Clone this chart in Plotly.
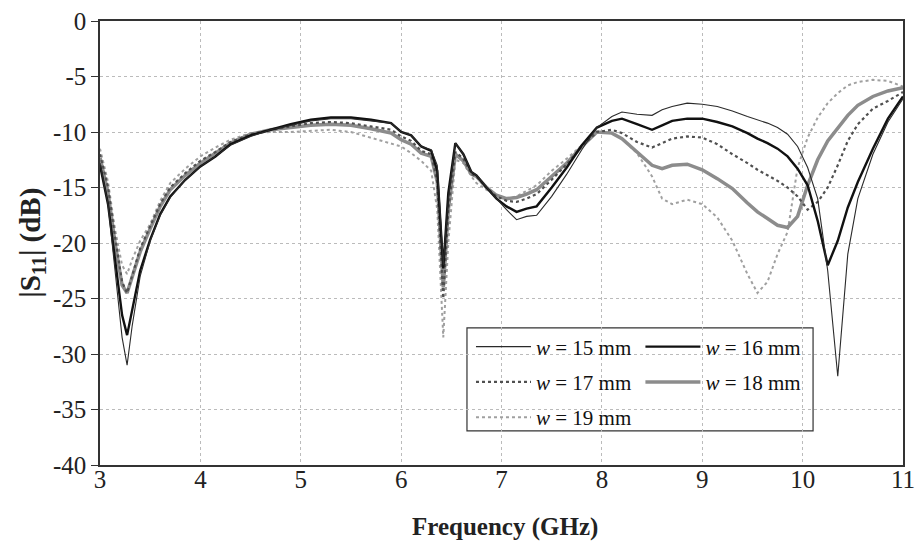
import plotly.graph_objects as go

# frequency grid (GHz)
freq = [3.0, 3.08, 3.15, 3.22, 3.27, 3.32, 3.4, 3.5, 3.6, 3.7, 3.85, 4.0, 4.15, 4.3,
        4.5, 4.7, 4.9, 5.1, 5.3, 5.5, 5.7, 5.9, 6.0, 6.1, 6.2, 6.3, 6.36, 6.42, 6.47,
        6.54, 6.62, 6.7, 6.75, 6.85, 6.95, 7.05, 7.15, 7.25, 7.35, 7.5, 7.65, 7.8,
        7.95, 8.1, 8.2, 8.35, 8.5, 8.6, 8.7, 8.85, 9.0, 9.15, 9.3, 9.45, 9.55, 9.65,
        9.75, 9.85, 9.95, 10.05, 10.15, 10.25, 10.35, 10.45, 10.55, 10.7, 10.85, 11.0]

# |S11| (dB)
s11_w15 = [-12.8, -16.5, -22.5, -28.5, -31.0, -27.5, -23.0, -19.8, -17.5, -15.9, -14.3, -13.1, -12.2, -11.2,
           -10.4, -9.8, -9.4, -9.0, -8.8, -8.8, -9.0, -9.2, -10.0, -10.3, -11.3, -11.6, -13.0, -22.0, -16.0,
           -11.0, -12.0, -13.6, -13.9, -15.0, -16.0, -17.0, -17.9, -17.6, -17.5, -15.8, -13.8, -11.6,
           -9.6, -8.6, -8.2, -8.4, -8.5, -8.0, -7.7, -7.4, -7.5, -7.7, -8.1, -8.6, -8.9, -9.2,
           -9.6, -10.2, -11.3, -13.2, -16.0, -22.5, -32.0, -21.0, -16.0, -12.0, -9.1, -7.0]
s11_w16 = [-13.0, -16.5, -21.5, -26.5, -28.3, -26.0, -22.5, -19.7, -17.4, -15.8, -14.3, -13.1, -12.2, -11.1,
           -10.3, -9.8, -9.3, -8.9, -8.7, -8.7, -8.9, -9.2, -10.0, -10.3, -11.3, -11.7, -13.5, -22.3, -15.5,
           -11.0, -12.0, -13.6, -13.9, -15.0, -16.0, -16.7, -17.2, -16.9, -16.7, -15.0, -13.2, -11.2,
           -9.6, -9.0, -8.8, -9.3, -9.8, -9.4, -9.0, -8.8, -8.8, -9.1, -9.5, -10.1, -10.6, -11.0,
           -11.5, -12.2, -13.3, -14.8, -18.0, -22.0, -19.8, -16.8, -14.5, -11.5, -8.8, -6.8]
s11_w17 = [-12.0, -15.0, -19.5, -23.5, -24.5, -23.0, -20.5, -18.5, -16.5, -15.0, -13.7, -12.6, -11.8, -10.9,
           -10.2, -9.8, -9.5, -9.2, -9.1, -9.2, -9.5, -9.8, -10.4, -10.8, -11.7, -12.0, -14.5, -25.0, -17.0,
           -11.8, -12.4, -13.8, -14.0, -15.0, -15.8, -16.2, -16.3, -16.0, -15.6, -14.3, -12.9, -11.3,
           -10.0, -9.8, -10.1, -10.9, -11.4, -11.0, -10.6, -10.4, -10.5, -11.1, -12.0, -12.8, -13.4, -13.9,
           -14.4, -15.0, -15.8, -17.0, -16.3, -15.0, -13.0, -10.8, -9.3, -7.9, -7.2, -6.4]
s11_w18 = [-12.3, -15.5, -20.0, -23.8, -24.5, -23.0, -20.8, -18.7, -16.7, -15.2, -13.9, -12.8, -11.9, -11.0,
           -10.2, -9.8, -9.6, -9.4, -9.3, -9.4, -9.7, -10.1, -10.7, -11.1, -11.9, -12.2, -14.5, -24.0, -17.0,
           -12.0, -12.6, -13.8, -14.0, -15.0, -15.7, -16.0, -15.9, -15.6, -15.2, -14.0, -12.8, -11.3,
           -10.0, -10.1, -10.6, -11.8, -13.0, -13.3, -13.0, -12.9, -13.4, -14.2, -15.1, -16.4, -17.2, -17.8,
           -18.4, -18.6, -17.6, -14.8, -12.5, -10.8, -9.6, -8.5, -7.6, -6.8, -6.3, -6.0]
s11_w19 = [-11.5, -14.5, -18.8, -22.0, -22.8, -21.5, -19.8, -18.3, -16.2, -14.6, -13.3, -12.2, -11.4, -10.7,
           -10.1, -10.0, -10.0, -9.9, -9.8, -10.0, -10.5, -11.0, -11.3, -11.9, -12.6, -13.5, -17.0, -28.5, -20.0,
           -12.5, -12.8, -14.0, -14.6, -15.2, -15.8, -16.1, -15.8, -15.3, -14.8, -13.5, -12.4, -11.2,
           -10.1, -10.1, -10.6, -11.9, -14.0, -16.0, -16.5, -16.1, -16.5, -17.7, -19.8, -22.8, -24.5, -23.5,
           -21.0, -19.0, -13.2, -10.5, -8.7, -7.4, -6.5, -5.8, -5.5, -5.3, -5.4, -5.9]

x_ticks = [3, 4, 5, 6, 7, 8, 9, 10, 11]
y_ticks = [0, -5, -10, -15, -20, -25, -30, -35, -40]
y_labels = ["0", "-5", "-10", "-15", "-20", "-25", "-30", "-35", "-40"]

serif = "Liberation Serif, Times New Roman, serif"

fig = go.Figure()
# gray / dotted curves underneath, solid black on top
fig.add_trace(go.Scatter(x=freq, y=s11_w19, mode="lines", name="<i>w</i> = 19 mm",
                         line=dict(color="#a0a0a0", width=2, dash="dot"),
                         legend="legend", legendgroup="g19", legendrank=3))
fig.add_trace(go.Scatter(x=freq, y=s11_w18, mode="lines", name="<i>w</i> = 18 mm",
                         line=dict(color="#8c8c8c", width=3.5),
                         legend="legend2", legendgroup="g18", legendrank=2))
fig.add_trace(go.Scatter(x=freq, y=s11_w17, mode="lines", name="<i>w</i> = 17 mm",
                         line=dict(color="#505050", width=2.2, dash="dot"),
                         legend="legend", legendgroup="g17", legendrank=2))
fig.add_trace(go.Scatter(x=freq, y=s11_w16, mode="lines", name="<i>w</i> = 16 mm",
                         line=dict(color="#111111", width=2.4),
                         legend="legend2", legendgroup="g16", legendrank=1))
fig.add_trace(go.Scatter(x=freq, y=s11_w15, mode="lines", name="<i>w</i> = 15 mm",
                         line=dict(color="#2a2a2a", width=1.1),
                         legend="legend", legendgroup="g15", legendrank=1))

# legend frame
fig.add_shape(type="rect", xref="paper", yref="paper", x0=0.457, x1=0.888, y0=0.077, y1=0.309,
              line=dict(color="#333333", width=1.2), fillcolor="white", layer="below")

# axis titles
fig.add_annotation(text="<b>Frequency (GHz)</b>", xref="paper", yref="paper", x=0.504, y=-0.14,
                   showarrow=False, xanchor="center", yanchor="middle",
                   font=dict(family=serif, size=25, color="#222"))
fig.add_annotation(text="<b>|S<sub>11</sub>| (dB)</b>", xref="paper", yref="paper", x=-0.085, y=0.5,
                   showarrow=False, textangle=-90, xanchor="center", yanchor="middle",
                   font=dict(family=serif, size=29, color="#222"))

legend_style = dict(font=dict(family=serif, size=21, color="#111"), bgcolor="rgba(0,0,0,0)",
                    borderwidth=0, tracegroupgap=5, itemwidth=55,
                    xanchor="left", yanchor="top", traceorder="grouped")

fig.update_layout(
    width=916, height=549,
    margin=dict(l=100, r=13, t=21, b=84),
    paper_bgcolor="white", plot_bgcolor="white",
    font=dict(family=serif, size=25, color="#222"),
    showlegend=True,
    legend=dict(x=0.462, y=0.312, **legend_style),
    legend2=dict(x=0.673, y=0.312, **legend_style),
    xaxis=dict(range=[3, 11], tickvals=x_ticks, showgrid=True, automargin=False,
               gridcolor="#bbbbbb", griddash="dot", gridwidth=1,
               showline=True, linecolor="#333", linewidth=1.5, mirror=True,
               ticks="", ticklabelstandoff=-9, zeroline=False),
    yaxis=dict(range=[-40, 0], tickvals=y_ticks, ticktext=y_labels, showgrid=True, automargin=False,
               gridcolor="#bbbbbb", griddash="dot", gridwidth=1,
               showline=True, linecolor="#333", linewidth=1.5, mirror=True,
               ticks="outside", ticklen=7, tickcolor="#333", zeroline=False),
)

fig.write_html("out.html", config={"displayModeBar": False},
               post_script="document.body.style.margin='0';")
